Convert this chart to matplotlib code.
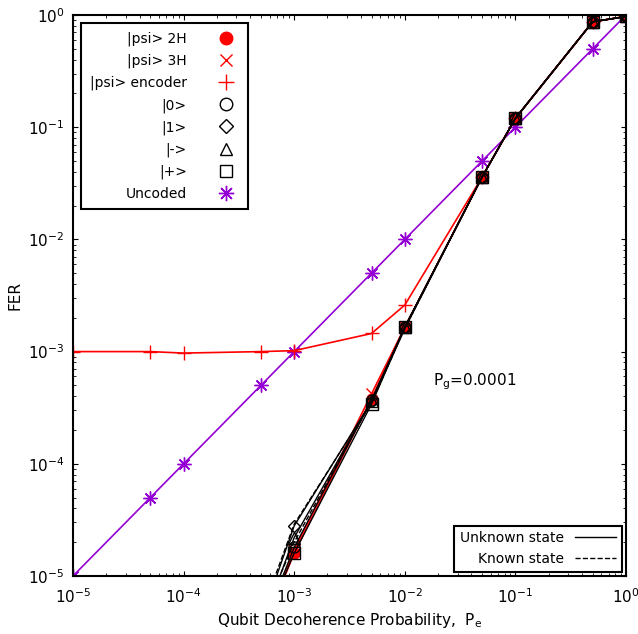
import matplotlib
matplotlib.use("Agg")
import matplotlib.pyplot as plt
from matplotlib.lines import Line2D

pe = [5e-4, 1e-3, 5e-3, 1e-2, 5e-2, 1e-1, 5e-1, 1.0]
fer_2h = [3e-6, 1.6e-5, 3.8e-4, 1.65e-3, 0.036, 0.12, 0.87, 0.97]
fer_3h = [3e-6, 1.7e-5, 4.2e-4, 1.65e-3, 0.036, 0.12, 0.87, 0.97]
fer_0 = [3.2e-6, 1.8e-5, 3.7e-4, 1.65e-3, 0.036, 0.12, 0.87, 0.97]
fer_1 = [4e-6, 2.8e-5, 3.6e-4, 1.65e-3, 0.036, 0.12, 0.87, 0.97]
fer_m = [3.5e-6, 2.2e-5, 3.6e-4, 1.65e-3, 0.036, 0.12, 0.87, 0.97]
fer_p = [3.2e-6, 1.6e-5, 3.4e-4, 1.65e-3, 0.036, 0.12, 0.87, 0.97]
# known-state (dashed) curves
fer_0k = [4e-6, 2.0e-5, 3.6e-4, 1.6e-3, 0.036, 0.12, 0.87, 0.97]
fer_1k = [4.5e-6, 2.9e-5, 3.5e-4, 1.6e-3, 0.036, 0.12, 0.87, 0.97]

pe_enc = [1e-5, 5e-5, 1e-4, 5e-4, 1e-3, 5e-3, 1e-2, 5e-2, 1e-1, 5e-1, 1.0]
fer_enc = [1.0e-3, 1.0e-3, 0.97e-3, 1.0e-3, 1.02e-3, 1.45e-3, 2.6e-3, 0.036, 0.12, 0.87, 0.97]
pe_unc = [1e-5, 5e-5, 1e-4, 5e-4, 1e-3, 5e-3, 1e-2, 5e-2, 1e-1, 5e-1, 1.0]
fer_unc = [1e-5, 5e-5, 1e-4, 5e-4, 1e-3, 5e-3, 1e-2, 5e-2, 1e-1, 5e-1, 1.0]

AST = (8, 2, 0)
PUR = "#9400d3"

fig = plt.figure(figsize=(6.38, 6.34), dpi=100)
ax = fig.add_axes([73/638, 58/634, 553/638, 561/634])
ax.set_xscale("log"); ax.set_yscale("log")
ax.set_xlim(1e-5, 1); ax.set_ylim(1e-5, 1)

ax.plot(pe_unc, fer_unc, "-", color=PUR, marker=AST, ms=10, lw=1.2)
ax.plot(pe_enc, fer_enc, "r-", marker="+", ms=10, lw=1.2)
ax.plot(pe, fer_2h, "r-", marker="o", ms=8, lw=1.2)
ax.plot(pe, fer_3h, "r-", marker="x", ms=8, lw=1.2)
for f in (fer_0k, fer_1k):
    ax.plot(pe, f, "k--", lw=1)
ax.plot(pe, fer_0, "k-", marker="o", mfc="none", ms=8, lw=1)
ax.plot(pe, fer_1, "k-", marker="D", mfc="none", ms=6, lw=1)
ax.plot(pe, fer_m, "k-", marker="^", mfc="none", ms=8, lw=1)
ax.plot(pe, fer_p, "k-", marker="s", mfc="none", ms=8, lw=1)

ax.set_xlabel("Qubit Decoherence Probability,  P$_\\mathrm{e}$", fontsize=11)
ax.set_ylabel("FER", fontsize=11)
ax.tick_params(which="both", direction="in", top=True, right=True, labelsize=11)
ax.tick_params(axis="x", pad=8)
ax.tick_params(axis="y", pad=6)
for s in ax.spines.values():
    s.set_linewidth(1.5)
ax.text(0.043, 5.4e-4, "P$_\\mathrm{g}$=0.0001", fontsize=11, ha="center", va="center")

h1 = [Line2D([], [], color="red", marker="o", ls="none", ms=9),
      Line2D([], [], color="red", marker="x", ls="none", ms=9),
      Line2D([], [], color="red", marker="+", ls="none", ms=11),
      Line2D([], [], color="k", marker="o", mfc="none", ls="none", ms=9),
      Line2D([], [], color="k", marker="D", mfc="none", ls="none", ms=7),
      Line2D([], [], color="k", marker="^", mfc="none", ls="none", ms=9),
      Line2D([], [], color="k", marker="s", mfc="none", ls="none", ms=9),
      Line2D([], [], color=PUR, marker=AST, ls="none", ms=11)]
l1 = ["|psi> 2H", "|psi> 3H", "|psi> encoder", "|0>", "|1>", "|->", "|+>", "Uncoded"]
leg1 = ax.legend(h1, l1, loc="upper left", markerfirst=False, fontsize=10, fancybox=False,
                 edgecolor="k", framealpha=1, borderaxespad=0.6, labelspacing=0.55,
                 handletextpad=1.8, borderpad=0.6)
leg1.get_frame().set_linewidth(1.5)
leg1._legend_box.align = "right"
ax.add_artist(leg1)
h2 = [Line2D([], [], color="k", ls="-", lw=1), Line2D([], [], color="k", ls="--", lw=1)]
leg2 = ax.legend(h2, ["Unknown state", "Known state"], loc="lower right", markerfirst=False,
                 fontsize=10, fancybox=False, edgecolor="k", framealpha=1, borderaxespad=0.3,
                 handlelength=3)
leg2.get_frame().set_linewidth(1.5)

fig.savefig("out.png", dpi=100)
